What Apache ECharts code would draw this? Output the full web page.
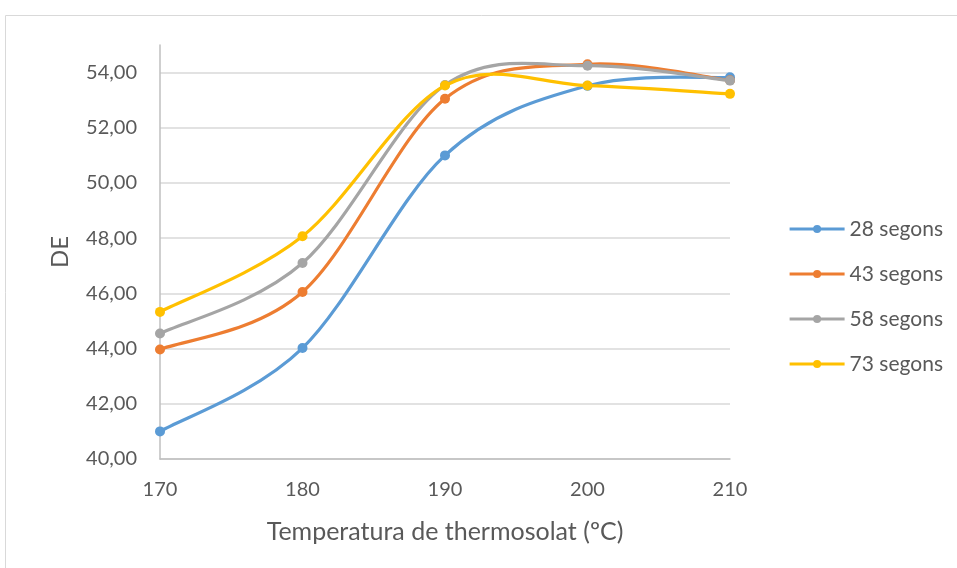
<!DOCTYPE html>
<html>
<head>
<meta charset="utf-8">
<script src="https://cdn.jsdelivr.net/npm/echarts@6/dist/echarts.min.js"></script>
<style>
  html, body { margin: 0; padding: 0; background: #ffffff; }
  #chart { width: 957px; height: 568px; }
</style>
</head>
<body>
<div id="chart"></div>
<script>
// Thermosol temperature (ºC) on the x axis
const temperatures = [170, 180, 190, 200, 210];

// DE values per fixation time
const seriesNames = ['28 segons', '43 segons', '58 segons', '73 segons'];
const de28 = [41.00, 44.02, 51.00, 53.52, 53.83];
const de43 = [43.97, 46.05, 53.05, 54.30, 53.72];
const de58 = [44.55, 47.10, 53.55, 54.25, 53.71];
const de73 = [45.33, 48.07, 53.53, 53.53, 53.23];

const yTicks = [40, 42, 44, 46, 48, 50, 52, 54];
const xTicks = [170, 180, 190, 200, 210];

const colors = ['#5B9BD5', '#ED7D31', '#A5A5A5', '#FFC000'];
const allValues = [de28, de43, de58, de73];

const font = 'Lato, "Open Sans", sans-serif';
const textColor = '#595959';
const lineWidth = 3.2;

const chart = echarts.init(document.getElementById('chart'));

// Smooth curve through the projected points (Catmull-Rom, as Bezier segments)
function smoothCurve(values, color) {
  return function (params, api) {
    if (params.dataIndex !== 0) return null;
    const pts = temperatures.map((t, k) => api.coord([t, values[k]]));
    const n = pts.length;
    const children = [];
    for (let i = 0; i < n - 1; i++) {
      const p0 = pts[Math.max(i - 1, 0)];
      const p1 = pts[i];
      const p2 = pts[i + 1];
      const p3 = pts[Math.min(i + 2, n - 1)];
      children.push({
        type: 'bezierCurve',
        shape: {
          x1: p1[0], y1: p1[1],
          cpx1: p1[0] + (p2[0] - p0[0]) / 6, cpy1: p1[1] + (p2[1] - p0[1]) / 6,
          cpx2: p2[0] - (p3[0] - p1[0]) / 6, cpy2: p2[1] - (p3[1] - p1[1]) / 6,
          x2: p2[0], y2: p2[1]
        },
        style: { stroke: color, lineWidth: lineWidth, fill: null, lineCap: 'round' }
      });
    }
    return { type: 'group', children: children };
  };
}

const series = [];
seriesNames.forEach((name, i) => {
  const pts = temperatures.map((t, k) => [t, allValues[i][k]]);
  // markers (and legend icon)
  series.push({
    name: name,
    type: 'line',
    data: pts,
    symbol: 'circle',
    symbolSize: 10,
    showSymbol: true,
    lineStyle: { width: lineWidth, color: colors[i], opacity: 0 },
    itemStyle: { color: colors[i] },
    emphasis: { disabled: true },
    z: 3 + i * 2
  });
  // smoothed line
  series.push({
    name: name,
    type: 'custom',
    data: pts,
    encode: { x: 0, y: 1 },
    renderItem: smoothCurve(allValues[i], colors[i]),
    silent: true,
    z: 2 + i * 2
  });
});

chart.setOption({
  animation: false,
  color: colors,
  graphic: [{
    type: 'rect',
    shape: { x: 5.5, y: 15.5, width: 1000, height: 600 },
    style: { fill: 'none', stroke: '#D9D9D9', lineWidth: 1 },
    silent: true,
    z: -1
  }],
  grid: { left: 160, right: 227, top: 45, bottom: 109 },
  legend: {
    orient: 'vertical',
    left: 783,
    top: 213,
    itemGap: 23,
    itemWidth: 55,
    itemHeight: 10,
    data: seriesNames,
    lineStyle: { opacity: 1, width: lineWidth },
    textStyle: { fontFamily: font, fontSize: 21, lineHeight: 22, color: textColor }
  },
  xAxis: {
    type: 'value',
    min: 170,
    max: 210,
    interval: 10,
    name: 'Temperatura de thermosolat (ºC)',
    nameLocation: 'middle',
    nameGap: 60,
    nameTextStyle: { fontFamily: font, fontSize: 25, color: textColor },
    axisLine: { show: true, lineStyle: { color: '#BFBFBF', width: 1.5 } },
    axisTick: { show: false },
    splitLine: { show: false },
    axisLabel: {
      customValues: xTicks,
      margin: 21,
      fontFamily: font, fontSize: 20, color: textColor
    }
  },
  yAxis: {
    type: 'value',
    min: 40,
    max: 55,
    name: 'DE',
    nameLocation: 'middle',
    nameGap: 88,
    nameRotate: 90,
    nameTextStyle: { fontFamily: font, fontSize: 24, color: textColor },
    axisLine: { show: true, lineStyle: { color: '#BFBFBF', width: 1.5 } },
    axisTick: { show: false, customValues: yTicks },
    splitLine: { show: true, lineStyle: { color: '#D9D9D9', width: 1.5 } },
    axisLabel: {
      customValues: yTicks,
      margin: 23,
      fontFamily: font, fontSize: 20, color: textColor,
      formatter: v => v.toFixed(2).replace('.', ',')
    }
  },
  series: series
});
</script>
</body>
</html>
